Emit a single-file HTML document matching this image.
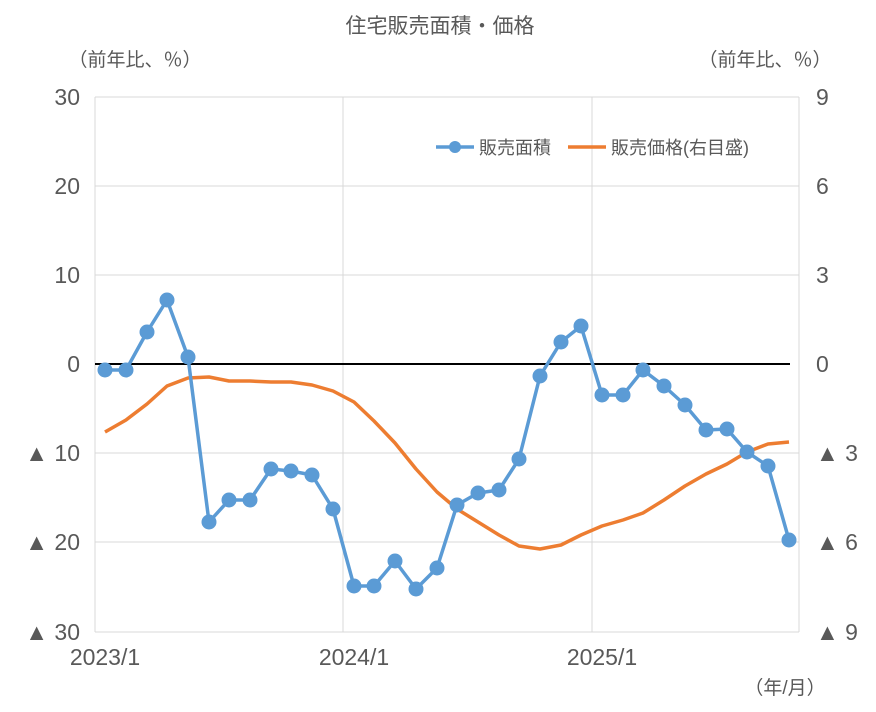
<!DOCTYPE html>
<html><head><meta charset="utf-8"><style>
body{margin:0;background:#fff;}
svg text{font-family:"Liberation Sans","Noto Sans CJK JP",sans-serif;fill:#595959;}
</style></head><body>
<svg width="876" height="707" viewBox="0 0 876 707" xmlns="http://www.w3.org/2000/svg">
<rect width="876" height="707" fill="#fff"/>
<text x="440" y="33" font-size="21" text-anchor="middle">住宅販売面積・価格</text>
<text x="135" y="66" font-size="19" text-anchor="middle">（前年比、％）</text>
<text x="765" y="66" font-size="19" text-anchor="middle">（前年比、％）</text>
<g stroke="#d9d9d9" stroke-width="1">
<line x1="95" y1="97" x2="799" y2="97"/><line x1="95" y1="186" x2="799" y2="186"/>
<line x1="95" y1="275" x2="799" y2="275"/><line x1="95" y1="453" x2="799" y2="453"/>
<line x1="95" y1="542" x2="799" y2="542"/><line x1="95" y1="632" x2="799" y2="632"/>
<line x1="95" y1="97" x2="95" y2="632"/><line x1="343" y1="97" x2="343" y2="632"/>
<line x1="592" y1="97" x2="592" y2="632"/><line x1="799" y1="97" x2="799" y2="632"/>
</g>
<line x1="95" y1="364" x2="790" y2="364" stroke="#000" stroke-width="2"/>
<g font-size="23" text-anchor="end">
<text x="80" y="105">30</text><text x="80" y="194">20</text><text x="80" y="283">10</text>
<text x="80" y="372">0</text><text x="80" y="461">▲ 10</text><text x="80" y="550">▲ 20</text><text x="80" y="640">▲ 30</text>
</g>
<g font-size="23" text-anchor="start">
<text x="816" y="105">9</text><text x="816" y="194">6</text><text x="816" y="283">3</text>
<text x="816" y="372">0</text><text x="816" y="461">▲ 3</text><text x="816" y="550">▲ 6</text><text x="816" y="640">▲ 9</text>
</g>
<g font-size="23" text-anchor="middle">
<text x="105" y="665">2023/1</text><text x="354" y="665">2024/1</text><text x="602" y="665">2025/1</text>
</g>
<text x="785" y="694" font-size="19" text-anchor="middle">（年/月）</text>
<polyline fill="none" stroke="#ed7d31" stroke-width="3.5" stroke-linejoin="round" points="105,432 126,420 147,404 167,386 188,378 209,377 229,381 250,381 271,382 291,382 312,385 333,391 354,402 374,421 395,443 416,469 437,492 457,509 478,522 499,535 519,546 540,549 561,545 581,535 602,526 623,520 643,513 664,500 685,486 706,474 727,464 747,452 768,444 789,442"/>
<g fill="#5b9bd5" stroke="#5b9bd5">
<polyline fill="none" stroke-width="3.5" stroke-linejoin="round" points="105,370 126,370 147,332 167,300 188,357 209,522 229,500 250,500 271,469 291,471 312,475 333,509 354,586 374,586 395,561 416,589 437,568 457,505 478,493 499,490 519,459 540,376 561,342 581,326 602,395 623,395 643,370 664,386 685,405 706,430 727,429 747,452 768,466 789,540"/>
<g stroke="none">
<circle cx="105" cy="370" r="7.5"/><circle cx="126" cy="370" r="7.5"/><circle cx="147" cy="332" r="7.5"/><circle cx="167" cy="300" r="7.5"/><circle cx="188" cy="357" r="7.5"/><circle cx="209" cy="522" r="7.5"/><circle cx="229" cy="500" r="7.5"/><circle cx="250" cy="500" r="7.5"/><circle cx="271" cy="469" r="7.5"/><circle cx="291" cy="471" r="7.5"/><circle cx="312" cy="475" r="7.5"/><circle cx="333" cy="509" r="7.5"/><circle cx="354" cy="586" r="7.5"/><circle cx="374" cy="586" r="7.5"/><circle cx="395" cy="561" r="7.5"/><circle cx="416" cy="589" r="7.5"/><circle cx="437" cy="568" r="7.5"/><circle cx="457" cy="505" r="7.5"/><circle cx="478" cy="493" r="7.5"/><circle cx="499" cy="490" r="7.5"/><circle cx="519" cy="459" r="7.5"/><circle cx="540" cy="376" r="7.5"/><circle cx="561" cy="342" r="7.5"/><circle cx="581" cy="326" r="7.5"/><circle cx="602" cy="395" r="7.5"/><circle cx="623" cy="395" r="7.5"/><circle cx="643" cy="370" r="7.5"/><circle cx="664" cy="386" r="7.5"/><circle cx="685" cy="405" r="7.5"/><circle cx="706" cy="430" r="7.5"/><circle cx="727" cy="429" r="7.5"/><circle cx="747" cy="452" r="7.5"/><circle cx="768" cy="466" r="7.5"/><circle cx="789" cy="540" r="7.5"/>
</g>
</g>
<line x1="436" y1="147" x2="474" y2="147" stroke="#5b9bd5" stroke-width="3.5"/>
<circle cx="455" cy="147" r="6" fill="#5b9bd5"/>
<text x="479" y="154" font-size="18">販売面積</text>
<line x1="568" y1="147" x2="606" y2="147" stroke="#ed7d31" stroke-width="3.5"/>
<text x="611" y="154" font-size="18">販売価格(右目盛)</text>
</svg>
</body></html>
